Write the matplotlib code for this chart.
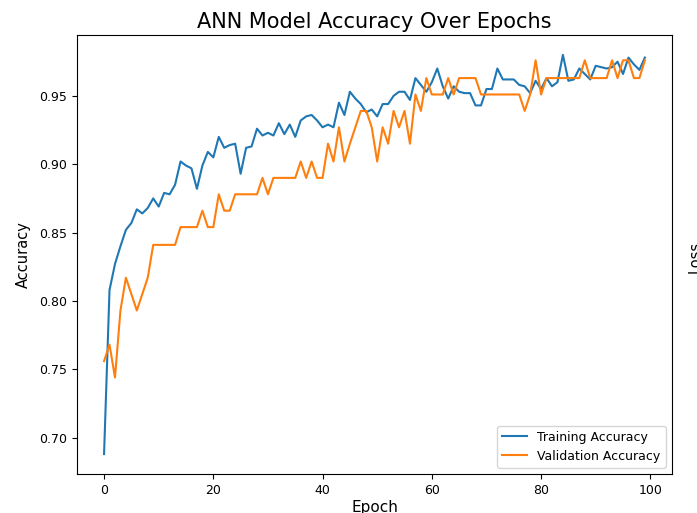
import matplotlib
matplotlib.use('Agg')
import numpy as np
import matplotlib.pyplot as plt

# accuracy per epoch
train_acc = [
    0.688, 0.808, 0.827, 0.840, 0.852, 0.857, 0.867, 0.864, 0.868, 0.875,
    0.869, 0.879, 0.878, 0.885, 0.902, 0.899, 0.897, 0.882, 0.899, 0.909,
    0.905, 0.920, 0.912, 0.914, 0.915, 0.893, 0.912, 0.913, 0.926, 0.921,
    0.923, 0.921, 0.930, 0.922, 0.929, 0.920, 0.932, 0.935, 0.936, 0.932,
    0.927, 0.929, 0.927, 0.945, 0.936, 0.953, 0.948, 0.944, 0.938, 0.940,
    0.935, 0.944, 0.944, 0.950, 0.953, 0.953, 0.947, 0.963, 0.958, 0.953,
    0.960, 0.970, 0.957, 0.948, 0.957, 0.953, 0.952, 0.952, 0.943, 0.943,
    0.955, 0.955, 0.970, 0.962, 0.962, 0.962, 0.958, 0.957, 0.952, 0.961,
    0.955, 0.963, 0.957, 0.960, 0.980, 0.961, 0.962, 0.970, 0.966, 0.962,
    0.972, 0.971, 0.970, 0.971, 0.975, 0.966, 0.978, 0.973, 0.969, 0.978,
]
val_acc = [
    0.756, 0.768, 0.744, 0.793, 0.817, 0.805, 0.793, 0.805, 0.817, 0.841,
    0.841, 0.841, 0.841, 0.841, 0.854, 0.854, 0.854, 0.854, 0.866, 0.854,
    0.854, 0.878, 0.866, 0.866, 0.878, 0.878, 0.878, 0.878, 0.878, 0.890,
    0.878, 0.890, 0.890, 0.890, 0.890, 0.890, 0.902, 0.890, 0.902, 0.890,
    0.890, 0.915, 0.902, 0.927, 0.902, 0.915, 0.927, 0.939, 0.939, 0.927,
    0.902, 0.927, 0.915, 0.939, 0.927, 0.939, 0.915, 0.951, 0.939, 0.963,
    0.951, 0.951, 0.951, 0.963, 0.951, 0.963, 0.963, 0.963, 0.963, 0.951,
    0.951, 0.951, 0.951, 0.951, 0.951, 0.951, 0.951, 0.939, 0.951, 0.976,
    0.951, 0.963, 0.963, 0.963, 0.963, 0.963, 0.963, 0.963, 0.976, 0.963,
    0.963, 0.963, 0.963, 0.976, 0.963, 0.976, 0.976, 0.963, 0.963, 0.976,
]
epochs = np.arange(len(train_acc))

fig = plt.figure(figsize=(6.97, 5.13), dpi=100)
ax = fig.add_axes([0.1105, 0.076, 0.8535, 0.856])

ax.plot(epochs, train_acc, label='Training Accuracy', lw=1.5)
ax.plot(epochs, val_acc, label='Validation Accuracy', lw=1.5)

ax.set_title('ANN Model Accuracy Over Epochs', fontsize=15, pad=5)
ax.set_xlabel('Epoch', fontsize=11, labelpad=2)
ax.set_ylabel('Accuracy', fontsize=10.5, labelpad=6)
ax.set_xticks([0, 20, 40, 60, 80, 100])
ax.set_yticks([0.70, 0.75, 0.80, 0.85, 0.90, 0.95])
ax.tick_params(labelsize=9)
ax.legend(loc='lower right', fontsize=9)

# label of the neighbouring subplot, cut off at the edge
fig.text(0.987, 0.5, 'Loss', rotation=90, ha='left', va='center', fontsize=10.5)

fig.savefig('out.png', dpi=100)
